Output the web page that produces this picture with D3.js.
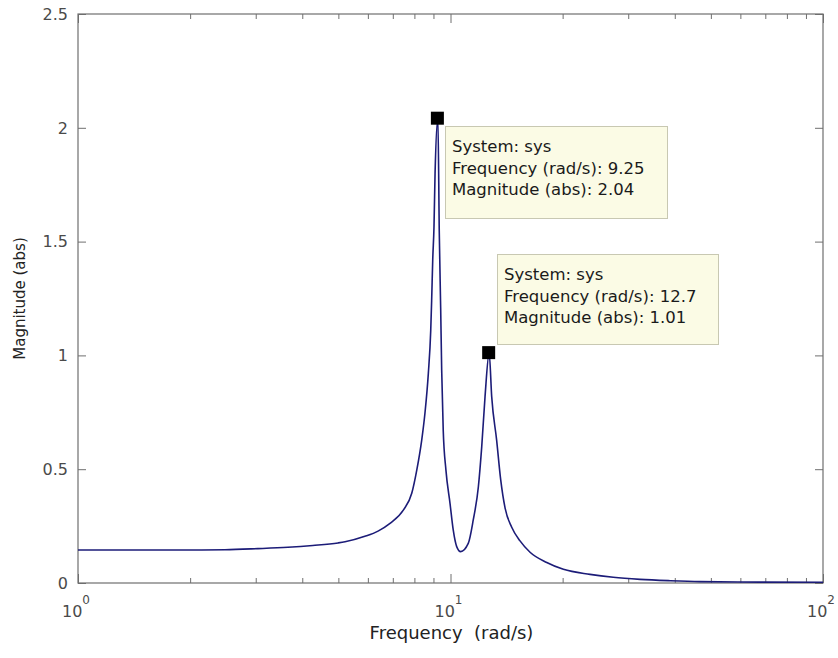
<!DOCTYPE html>
<html>
<head>
<meta charset="utf-8">
<script src="https://cdn.jsdelivr.net/npm/d3@7"></script>
<style>
  html, body { margin: 0; padding: 0; background: #ffffff; }
  svg { display: block; font-family: "DejaVu Sans", Verdana, sans-serif; }
</style>
</head>
<body>
<svg id="chart" width="838" height="658"></svg>
<script>
// Frequency response of sys: |H(jw)| sampled over 1..100 rad/s
const frequency = [1, 1.5, 2, 2.48, 3.04, 3.66, 4.27, 4.99, 5.21, 5.89, 6.39, 6.88,
  7.47, 7.87, 8.12, 8.37, 8.54, 8.72, 8.85, 8.90, 8.96, 9.03, 9.09, 9.25, 9.33,
  9.41, 9.47, 9.56, 9.72, 9.97, 10.17, 10.39, 10.65, 11.16, 11.51, 11.88, 12.13,
  12.38, 12.7, 12.90, 13.30, 13.64, 14.01, 14.60, 15.37, 16.35, 18.13, 20.09,
  23.69, 27.35, 32.27, 38.85, 46.75, 67.7, 100];
const magnitude = [0.145, 0.145, 0.145, 0.146, 0.151, 0.157, 0.165, 0.176, 0.181,
  0.205, 0.228, 0.262, 0.32, 0.394, 0.497, 0.628, 0.747, 0.921, 1.11, 1.24, 1.42,
  1.565, 1.80, 2.04, 1.54, 1.21, 0.935, 0.672, 0.497, 0.35, 0.233, 0.16, 0.138,
  0.174, 0.277, 0.423, 0.599, 0.819, 1.01, 0.819, 0.628, 0.453, 0.33, 0.245,
  0.185, 0.135, 0.09, 0.06, 0.038, 0.025, 0.016, 0.010, 0.006, 0.004, 0.003];

// Data tips: [frequency, magnitude]
const tipFrequency = [9.25, 12.7];
const tipMagnitude = [2.04, 1.01];

const yTicks = [0, 0.5, 1, 1.5, 2, 2.5];
const yTickLabels = ["0", "0.5", "1", "1.5", "2", "2.5"];
const xMajorTicks = [1, 10, 100];
const xMajorExponents = ["0", "1", "2"];

const svg = d3.select("#chart");
const plotLeft = 78, plotRight = 823, plotTop = 14, plotBottom = 583;

const x = d3.scaleLog().domain([1, 100]).range([plotLeft, plotRight]);
const y = d3.scaleLinear().domain([0, 2.5]).range([plotBottom, plotTop]);

const axisColor = "#6f6f6f";
const textColor = "#4a4a4a";

// minor decade ticks 2..9, 20..90
const xMinor = [];
[1, 10].forEach(d => { for (let k = 2; k <= 9; k++) xMinor.push(d * k); });

function styleAxis(g) {
  g.select(".domain").remove();
  g.selectAll(".tick line").attr("stroke", axisColor);
  g.selectAll(".tick text").remove();
}

// bottom and top tick marks (pointing inward)
svg.append("g").attr("transform", `translate(0,${plotBottom})`)
  .call(d3.axisBottom(x).tickValues(xMinor).tickSize(-5)).call(styleAxis);
svg.append("g").attr("transform", `translate(0,${plotBottom})`)
  .call(d3.axisBottom(x).tickValues(xMajorTicks).tickSize(-9)).call(styleAxis);
svg.append("g").attr("transform", `translate(0,${plotTop})`)
  .call(d3.axisTop(x).tickValues(xMinor).tickSize(-5)).call(styleAxis);
svg.append("g").attr("transform", `translate(0,${plotTop})`)
  .call(d3.axisTop(x).tickValues(xMajorTicks).tickSize(-9)).call(styleAxis);

// left and right tick marks
svg.append("g").attr("transform", `translate(${plotLeft},0)`)
  .call(d3.axisLeft(y).tickValues(yTicks).tickSize(-8)).call(styleAxis);
svg.append("g").attr("transform", `translate(${plotRight},0)`)
  .call(d3.axisRight(y).tickValues(yTicks).tickSize(-8)).call(styleAxis);

// y tick labels
svg.append("g").selectAll("text").data(yTicks).join("text")
  .attr("x", plotLeft - 10)
  .attr("y", d => y(d))
  .attr("dy", "0.36em")
  .attr("text-anchor", "end")
  .attr("font-size", 16)
  .attr("fill", textColor)
  .text((d, i) => yTickLabels[i]);

// x tick labels: 10 with superscript exponent
const xl = svg.append("g").selectAll("text").data(xMajorTicks).join("text")
  .attr("x", d => x(d) - 16)
  .attr("y", 617)
  .attr("font-size", 16)
  .attr("fill", textColor);
xl.append("tspan").text("10");
xl.append("tspan").attr("dy", -13).attr("font-size", 12)
  .text((d, i) => xMajorExponents[i]);

// axis box
svg.append("rect")
  .attr("x", plotLeft).attr("y", plotTop)
  .attr("width", plotRight - plotLeft).attr("height", plotBottom - plotTop)
  .attr("fill", "none").attr("stroke", axisColor).attr("stroke-width", 1.2);

// axis titles
svg.append("text")
  .attr("x", (plotLeft + plotRight) / 2 + 1)
  .attr("y", 639)
  .attr("text-anchor", "middle")
  .attr("font-size", 18)
  .attr("fill", "#222")
  .attr("xml:space", "preserve")
  .style("white-space", "pre")
  .text("Frequency  (rad/s)");

svg.append("text")
  .attr("transform", `translate(25,${(plotTop + plotBottom) / 2}) rotate(-90)`)
  .attr("text-anchor", "middle")
  .attr("font-size", 15)
  .attr("fill", "#222")
  .text("Magnitude (abs)");

// response curve
const line = d3.line()
  .x((d, i) => x(frequency[i]))
  .y(d => y(d))
  .curve(d3.curveMonotoneX);

svg.append("path")
  .datum(magnitude)
  .attr("d", line)
  .attr("fill", "none")
  .attr("stroke", "#1c1c78")
  .attr("stroke-width", 1.6);

// data tip markers
svg.append("g").selectAll("rect").data(tipFrequency).join("rect")
  .attr("x", d => x(d) - 7)
  .attr("y", (d, i) => y(tipMagnitude[i]) - 7)
  .attr("width", 13).attr("height", 13)
  .attr("fill", "#000");

// data tip boxes
const tipBoxes = [
  { x: 445, y: 126, w: 222, h: 92 },
  { x: 497, y: 254, w: 221, h: 90 }
];
tipBoxes.forEach((b, i) => {
  const g = svg.append("g");
  g.append("rect")
    .attr("x", b.x + 0.5).attr("y", b.y + 0.5)
    .attr("width", b.w).attr("height", b.h)
    .attr("fill", "#fbfbe5").attr("stroke", "#c8c8b2");
  const lines = [
    "System: sys",
    "Frequency (rad/s): " + tipFrequency[i],
    "Magnitude (abs): " + tipMagnitude[i].toFixed(2)
  ];
  g.selectAll("text").data(lines).join("text")
    .attr("x", b.x + 7)
    .attr("y", (d, j) => b.y + 26 + j * 21.5)
    .attr("font-size", 16.5)
    .attr("fill", "#1a1a1a")
    .text(d => d);
});
</script>
</body>
</html>
